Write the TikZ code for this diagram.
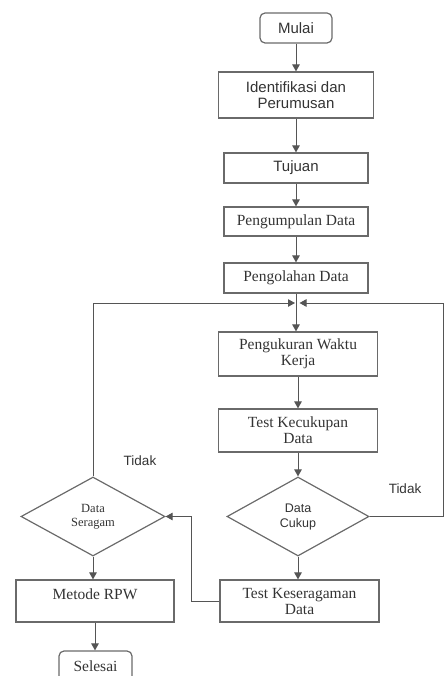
\documentclass[tikz,border=0pt]{standalone}
\usepackage{fontspec}
\setmainfont{Liberation Serif}
\newfontfamily\sansf{Liberation Sans}
\usetikzlibrary{shapes.geometric,arrows.meta}
\definecolor{lnc}{HTML}{555555}
\definecolor{bxc}{HTML}{6A6A6A}
\definecolor{txc}{HTML}{333333}
\begin{document}
\begin{tikzpicture}[x=1pt,y=-1pt,
  box/.style={draw=bxc, line width=1.2pt, rectangle, inner sep=0pt, align=center, text=txc},
  term/.style={box, rounded corners=5pt},
  dia/.style={draw=bxc, line width=1.2pt, diamond, inner sep=0pt, minimum width=144pt, minimum height=79pt, align=center, text=txc},
  arr/.style={draw=lnc, line width=1pt, -{Triangle[length=7pt,width=7.5pt]}},
  plain/.style={draw=lnc, line width=1pt},
  sansL/.style={font=\sansf\fontsize{15}{16}\selectfont},
  serL/.style={font=\fontsize{15.5}{16}\selectfont},
  lab/.style={font=\sansf\fontsize{13.5}{14}\selectfont, text=txc, inner sep=0pt}
]
\useasboundingbox (0,0) rectangle (444,676);
\node[term, sansL, minimum width=72pt, minimum height=30pt] (mulai) at (296,28) {Mulai};
\node[box, sansL, minimum width=155pt, minimum height=46pt] (ident) at (296,95) {Identifikasi dan\\Perumusan};
\node[box, sansL, minimum width=144pt, minimum height=30pt] (tujuan) at (296,168) {Tujuan};
\node[box, serL, minimum width=144pt, minimum height=29pt] (kumpul) at (296,221.5) {Pengumpulan Data};
\node[box, serL, minimum width=144pt, minimum height=30pt] (olah) at (296,278) {Pengolahan Data};
\node[box, serL, minimum width=159pt, minimum height=44pt] (ukur) at (298,354) {Pengukuran Waktu\\Kerja};
\node[box, serL, minimum width=159pt, minimum height=43pt] (cukupan) at (298,430.5) {Test Kecukupan\\Data};
\node[dia, font=\sansf\fontsize{12.5}{15}\selectfont, minimum width=142pt] (cukup) at (298,516.5) {Data\\Cukup};
\node[box, serL, minimum width=159pt, minimum height=42pt] (seragaman) at (299.5,601) {Test Keseragaman\\Data};
\node[dia, font=\fontsize{12.5}{14}\selectfont] (seragam) at (93,516.5) {Data\\Seragam};
\node[box, serL, minimum width=158pt, minimum height=42pt] (rpw) at (95,601) {\raisebox{2pt}[0pt][0pt]{Metode RPW}};
\node[term, serL, minimum width=73pt, minimum height=31pt] (selesai) at (95.5,666.5) {Selesai};
\node[lab] (t1) at (140,461) {Tidak};
\node[lab] (t2) at (405,489) {Tidak};
\coordinate (jl) at (295,303);
\coordinate (jr) at (299.5,303);
\coordinate (rc) at (443,303);
\draw[arr] (mulai) -- (ident);
\draw[arr] (ident) -- (tujuan);
\draw[arr] (tujuan) -- (kumpul);
\draw[arr] (kumpul) -- (olah);
\draw[arr] (olah.south) -- (olah.south |- ukur.north);
\draw[arr] (ukur) -- (cukupan);
\draw[arr] (cukupan) -- (cukup);
\draw[arr] (cukup.south) -- (cukup.south |- seragaman.north);
\draw[arr] (seragam.south) -- (seragam.south |- rpw.north);
\draw[arr] (rpw.south) -- (rpw.south |- selesai.north);
\draw[arr] (seragam.north) |- (jl);
\draw[plain] (cukup.east) -| (rc);
\draw[arr] (rc) -- (jr);
\draw[arr] (seragaman.west) -- ++(-28,0) |- (seragam.east);
\end{tikzpicture}
\end{document}
